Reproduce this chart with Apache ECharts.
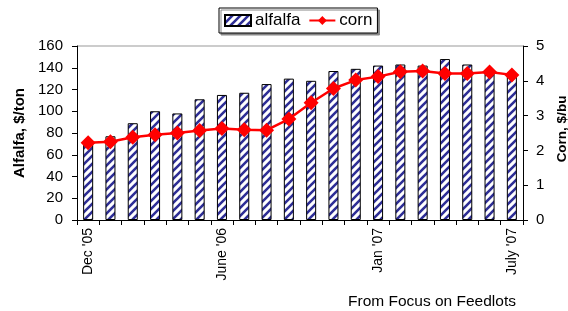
<!DOCTYPE html>
<html>
<head>
<meta charset="utf-8">
<script src="https://cdn.jsdelivr.net/npm/echarts@6/dist/echarts.min.js"></script>
<style>
  html, body { margin: 0; padding: 0; background: #fff; }
  #main { width: 568px; height: 311px; }
</style>
</head>
<body>
<div id="main"></div>
<script>
const months = ["Dec '05", "Jan '06", "Feb '06", "Mar '06", "Apr '06", "May '06", "June '06",
  "Jul '06", "Aug '06", "Sep '06", "Oct '06", "Nov '06", "Dec '06", "Jan '07", "Feb '07",
  "Mar '07", "Apr '07", "May '07", "Jun '07", "July '07"];
const shownLabels = ["Dec '05", "June '06", "Jan '07", "July '07"];
const alfalfa = [72, 77, 89, 100, 98, 111, 115, 117, 125, 130, 128, 137, 139, 142, 143, 142, 148, 143, 137, 133];
const corn = [2.22, 2.25, 2.38, 2.45, 2.5, 2.57, 2.63, 2.59, 2.58, 2.9, 3.37, 3.78, 4.02, 4.12, 4.26, 4.28, 4.21, 4.21, 4.25, 4.17];

// striped fill for the bars
function stripes() {
  const c = document.createElement("canvas");
  c.width = 8; c.height = 8;
  const g = c.getContext("2d");
  g.fillStyle = "#fff";
  g.fillRect(0, 0, 8, 8);
  g.strokeStyle = "#2e2e96";
  g.lineWidth = 2.6;
  g.beginPath();
  g.moveTo(-2, 10); g.lineTo(10, -2);
  g.moveTo(-6, 6); g.lineTo(6, -6);
  g.moveTo(2, 14); g.lineTo(14, 2);
  g.stroke();
  return c;
}

const chart = echarts.init(document.getElementById("main"), null, { renderer: "canvas" });
const font = "Liberation Sans, Arial, sans-serif";

chart.setOption({
  animation: false,
  textStyle: { fontFamily: font, color: "#000" },
  legend: {
    top: 8,
    left: 219,
    itemGap: 8,
    itemWidth: 26,
    itemHeight: 11,
    padding: [4, 5],
    borderColor: "#000",
    borderWidth: 1,
    shadowColor: "#888",
    shadowOffsetX: 2,
    shadowOffsetY: 2,
    backgroundColor: "#fff",
    textStyle: { fontSize: 17, fontFamily: font, color: "#000", padding: [0, 0, 0, -1] },
    data: [
      { name: "alfalfa", icon: "rect" },
      { name: "corn" }
    ]
  },
  grid: { left: 77, right: 45, top: 46, bottom: 91, containLabel: false, outerBoundsMode: "none" },
  xAxis: {
    type: "category",
    data: months,
    boundaryGap: true,
    axisLine: { lineStyle: { color: "#000", width: 1 } },
    axisTick: { show: true, interval: 0, length: 5, lineStyle: { color: "#000" } },
    axisLabel: {
      interval: 0,
      rotate: 90,
      fontSize: 14,
      color: "#000",
      margin: 8,
      formatter: v => shownLabels.includes(v) ? v : ""
    }
  },
  yAxis: [
    {
      type: "value",
      min: 0, max: 160, interval: 20,
      name: "Alfalfa, $/ton",
      nameLocation: "middle",
      nameGap: 44,
      nameRotate: 90,
      nameTextStyle: { fontSize: 15, fontWeight: "bold", color: "#000" },
      axisLine: { show: true, lineStyle: { color: "#000" } },
      axisTick: { show: true, length: 5, lineStyle: { color: "#000" } },
      axisLabel: { fontSize: 15, color: "#000", margin: 14 },
      splitLine: { show: false }
    },
    {
      type: "value",
      min: 0, max: 5, interval: 1,
      axisLine: { show: true, lineStyle: { color: "#000" } },
      axisTick: { show: true, length: 5, lineStyle: { color: "#000" } },
      axisLabel: { fontSize: 15, color: "#000", margin: 13 },
      splitLine: { show: false }
    }
  ],
  graphic: [
    { type: "line", shape: { x1: 77, y1: 46, x2: 523, y2: 46 }, style: { stroke: "#999", lineWidth: 1 } },
    {
      type: "text", x: 562, y: 129, rotation: Math.PI / 2,
      style: { text: "Corn, $/bu", fontSize: 13.5, fontWeight: "bold", fontFamily: font, fill: "#000", align: "center", verticalAlign: "middle" }
    },
    { type: "text", left: 348, top: 294, style: { text: "From Focus on Feedlots", fontSize: 15.5, fontFamily: font, fill: "#000" } }
  ],
  series: [
    {
      name: "alfalfa",
      type: "bar",
      data: alfalfa,
      barWidth: "45%",
      itemStyle: {
        color: { image: stripes(), repeat: "repeat" },
        borderColor: "#000",
        borderWidth: 1
      }
    },
    {
      name: "corn",
      type: "line",
      yAxisIndex: 1,
      data: corn,
      symbol: "diamond",
      symbolSize: 15,
      lineStyle: { color: "#ff0000", width: 2.5 },
      itemStyle: { color: "#ff0000" }
    }
  ]
});
</script>
</body>
</html>
